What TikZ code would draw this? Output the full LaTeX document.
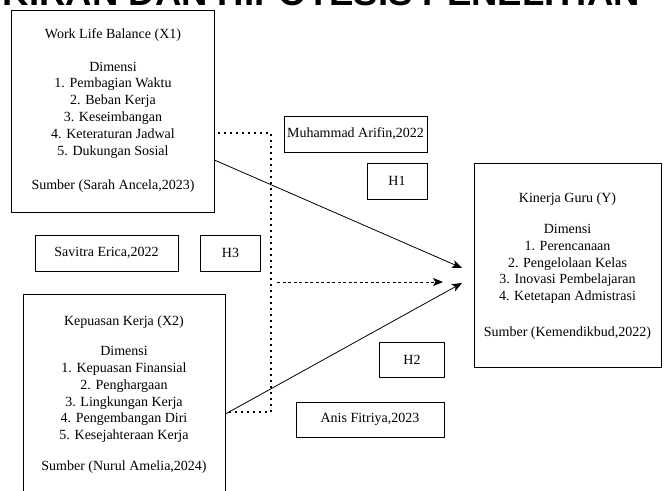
\documentclass[tikz,border=0pt]{standalone}
\usepackage{fontspec}
\setmainfont{Liberation Serif}
\newfontfamily\titlefont{Liberation Sans}
\usetikzlibrary{arrows.meta}
\begin{document}
\begin{tikzpicture}[x=1pt,y=-1pt,
  box/.style={draw, line width=0.8pt, inner sep=0pt},
  txt/.style={font=\fontsize{14}{16.8}\selectfont, align=center, inner sep=0pt},
  arr/.style={line width=0.8pt, -{Stealth[length=10pt,width=8pt,inset=2.5pt]}},
  dots/.style={line width=1.6pt, dash pattern=on 1.6pt off 4.4pt},
  dsh/.style={line width=0.8pt, dash pattern=on 3pt off 2.5pt, -{Stealth[length=10pt,width=8pt,inset=2.5pt]}},
]
\clip (0,0) rectangle (664,490);
\fill[white] (0,0) rectangle (664,490);

% cut-off heading
\node[anchor=base east, inner sep=0pt, font=\titlefont\bfseries\fontsize{36.5}{36.5}\selectfont] (ttl) at (640,5) {KERANGKA PEMIKIRAN DAN HIPOTESIS PENELITIAN};

% main boxes
\node[box, minimum width=203pt, minimum height=202pt] (x1) at (112.5,111) {};
\node[box, minimum width=202pt, minimum height=206pt] (x2) at (124,397) {};
\node[box, minimum width=187pt, minimum height=204pt] (y) at (567.5,265) {};

% texts of X1
\node[txt] (x1t) at (113,35) {Work Life Balance (X1)};
\node[txt] (x1d) at (113,110) {Dimensi\\1. Pembagian Waktu\\2. Beban Kerja\\3. Keseimbangan\\4. Keteraturan Jadwal\\5. Dukungan Sosial};
\node[txt] (x1s) at (113,186) {Sumber (Sarah Ancela,2023)};

% texts of X2
\node[txt] (x2t) at (124,322) {Kepuasan Kerja (X2)};
\node[txt] (x2d) at (124,394.5) {Dimensi\\1. Kepuasan Finansial\\2. Penghargaan\\3. Lingkungan Kerja\\4. Pengembangan Diri\\5. Kesejahteraan Kerja};
\node[txt] (x2s) at (124,467) {Sumber (Nurul Amelia,2024)};

% texts of Y
\node[txt] (yt) at (567.5,199) {Kinerja Guru (Y)};
\node[txt] (yd) at (567.5,264) {Dimensi\\1. Perencanaan\\2. Pengelolaan Kelas\\3. Inovasi Pembelajaran\\4. Ketetapan Admistrasi};
\node[txt] (ys) at (567.5,333) {Sumber (Kemendikbud,2022)};

% small boxes
\node[box, txt, minimum width=143pt, minimum height=36pt] (mu) at (355.5,134) {Muhammad Arifin,2022};
\node[box, txt, minimum width=60pt, minimum height=36pt] (h1) at (397,181) {H1};
\node[box, txt, minimum width=60pt, minimum height=36pt] (h3) at (230.5,253) {H3};
\node[box, txt, minimum width=143pt, minimum height=36pt] (sav) at (106.5,253) {Savitra Erica,2022};
\node[box, txt, minimum width=65pt, minimum height=35pt] (h2) at (412,359.5) {H2};
\node[box, txt, minimum width=148pt, minimum height=35pt] (anis) at (370,419.5) {Anis Fitriya,2023};

% connector points
\coordinate (d1) at (271,133);
\coordinate (d2) at (271,412);
\coordinate (s1) at (0,160);
\coordinate (s2) at (0,414);
\coordinate (da) at (277,282);
\coordinate (t1) at (462,268);
\coordinate (t2) at (462,283);
\coordinate (t3) at (443,282);

% dotted path between X1 and X2
\draw[dots] ([xshift=4pt]x1.east |- d1) -- (d1) -- (d2) -- ([xshift=4pt]x2.east |- d2);
% dashed arrow (H3)
\draw[dsh] (da) -- (t3);
% solid arrows (H1, H2)
\draw[arr] (x1.east |- s1) -- (t1);
\draw[arr] (x2.east |- s2) -- (t2);
\end{tikzpicture}
\end{document}
